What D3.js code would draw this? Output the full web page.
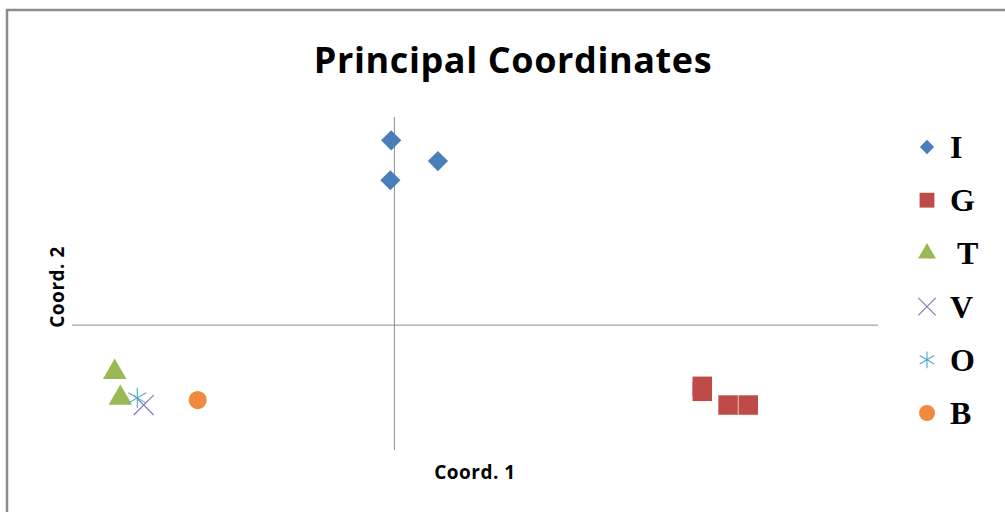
<!DOCTYPE html>
<html>
<head>
<meta charset="utf-8">
<script src="https://cdn.jsdelivr.net/npm/d3@7"></script>
<style>
  body{margin:0;background:#fff;}
  svg{display:block;}
</style>
</head>
<body>
<script>
const w = 1005;
const h = 512;

// groups and their colours / marker shapes
const groups = ['I','G','T','V','O','B'];
const colors = ['#4a7ebb','#be4b48','#98b954','#8a74ad','#4bacc6','#f08a3c'];
const shapes = ['diamond','square','triangle','x','star','circle'];

// scores (arbitrary units, axes cross at 0)
const coord1 = {
  I: [-0.004, 0.054, -0.005],
  G: [0.382, 0.382, 0.414, 0.439],
  T: [-0.347, -0.340],
  V: [-0.311],
  O: [-0.319],
  B: [-0.244]
};
const coord2 = {
  I: [0.444, 0.394, 0.348],
  G: [-0.147, -0.159, -0.192, -0.192],
  T: [-0.113, -0.175],
  V: [-0.192],
  O: [-0.175],
  B: [-0.180]
};

const xDomain = [-0.4, 0.6];
const yDomain = [-0.3, 0.5];

const svg = d3.select('body').append('svg')
  .attr('width', w)
  .attr('height', h);

// chart frame
svg.append('path')
  .attr('d', `M7,${h} L7,10 L${w},10`)
  .attr('fill','none')
  .attr('stroke','#8c8c8c')
  .attr('stroke-width',2.5);

svg.append('text')
  .text('Principal Coordinates')
  .attr('x', 513)
  .attr('y', 73)
  .attr('text-anchor','middle')
  .style('font-family','"Open Sans", sans-serif')
  .style('font-weight','bold')
  .style('font-size','36px')
  .style('letter-spacing','0.6px')
  .style('fill','#000');

const x = d3.scaleLinear().domain(xDomain).range([72, 878]);
const y = d3.scaleLinear().domain(yDomain).range([450, 117]);

// axes through origin, no ticks
svg.append('line')
  .attr('x1', x(xDomain[0])).attr('x2', x(xDomain[1]))
  .attr('y1', y(0)).attr('y2', y(0))
  .attr('stroke','#8c8c8c').attr('stroke-width',1);
svg.append('line')
  .attr('x1', x(0)).attr('x2', x(0))
  .attr('y1', y(yDomain[0])).attr('y2', y(yDomain[1]))
  .attr('stroke','#8c8c8c').attr('stroke-width',1);

svg.append('text')
  .text('Coord. 1')
  .attr('x', 475)
  .attr('y', 479)
  .attr('text-anchor','middle')
  .style('font-family','"Open Sans", sans-serif')
  .style('font-weight','bold')
  .style('font-size','19px')
  .style('letter-spacing','0.5px');

svg.append('text')
  .text('Coord. 2')
  .attr('transform','translate(64,287) rotate(-90)')
  .attr('text-anchor','middle')
  .style('font-family','"Open Sans", sans-serif')
  .style('font-weight','bold')
  .style('font-size','19px')
  .style('letter-spacing','0.5px');

function symbolFor(shape, size){
  if(shape=='diamond') return d3.symbol().type(d3.symbolDiamond2).size(size)();
  if(shape=='square') return d3.symbol().type(d3.symbolSquare).size(size)();
  if(shape=='triangle') return d3.symbol().type(d3.symbolTriangle).size(size)();
  if(shape=='circle') return d3.symbol().type(d3.symbolCircle).size(size)();
  if(shape=='x') return d3.symbol().type(d3.symbolTimes).size(size)();
  if(shape=='star') return d3.symbol().type(d3.symbolAsterisk).size(size)();
}

function drawMarker(g, i, size){
  const p = g.append('path').attr('d', symbolFor(shapes[i], size));
  if(shapes[i]=='x' || shapes[i]=='star'){
    p.attr('fill','none').attr('stroke',colors[i]).attr('stroke-width',1.1);
  }else{
    p.attr('fill',colors[i]);
  }
  return p;
}

const sizes = {diamond:260, square:380, triangle:240, circle:260, x:260, star:300};

const plot = svg.append('g');
groups.forEach((grp,i)=>{
  const pts = coord1[grp].map((v,j)=>({x:v, y:coord2[grp][j]}));
  pts.forEach(d=>{
    const g = plot.append('g')
      .attr('transform',`translate(${x(d.x)},${y(d.y)})`);
    drawMarker(g, i, sizes[shapes[i]]);
  });
});

// legend
const legSizes = {diamond:130, square:220, triangle:140, circle:200, x:200, star:200};
const legend = svg.append('g');
groups.forEach((grp,i)=>{
  const ly = 147 + i*53.2;
  const g = legend.append('g').attr('transform',`translate(927,${ly})`);
  drawMarker(g, i, legSizes[shapes[i]]);
  legend.append('text')
    .text(grp)
    .attr('x', grp=='T' ? 957 : 950)
    .attr('y', ly+11)
    .style('font-family','"Liberation Serif", serif')
    .style('font-weight','bold')
    .style('font-size','32px')
    .style('fill','#000');
});
</script>
</body>
</html>
